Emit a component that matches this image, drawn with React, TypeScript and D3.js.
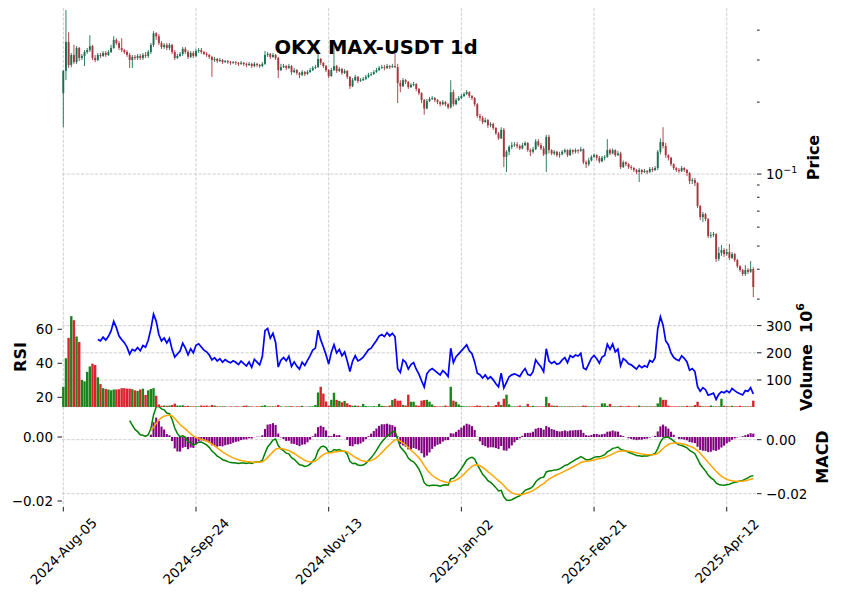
import React, { useEffect, useRef } from 'react';
import * as d3 from 'd3';

// chart text
const title = 'OKX MAX-USDT 1d';
const xTickIdx = [0, 50, 100, 150, 200, 250];
const xTickLabels = ['2024-Aug-05', '2024-Sep-24', '2024-Nov-13', '2025-Jan-02', '2025-Feb-21', '2025-Apr-12'];

// daily candles, one per day from 2024-08-05 (open = previous close)
const firstOpen = 0.218;
const closes = [
  0.270, 0.357, 0.286, 0.315, 0.294, 0.337, 0.306, 0.312, 0.324, 0.330,
  0.343, 0.306, 0.300, 0.315, 0.312, 0.321, 0.315, 0.324, 0.337, 0.364,
  0.353, 0.337, 0.330, 0.324, 0.315, 0.300, 0.309, 0.306, 0.312, 0.306,
  0.315, 0.312, 0.324, 0.347, 0.388, 0.377, 0.353, 0.340, 0.347, 0.337,
  0.347, 0.324, 0.306, 0.312, 0.318, 0.334, 0.324, 0.309, 0.321, 0.312,
  0.327, 0.330, 0.324, 0.318, 0.315, 0.309, 0.300, 0.303, 0.297, 0.300,
  0.294, 0.297, 0.294, 0.292, 0.294, 0.292, 0.289, 0.292, 0.289, 0.286,
  0.289, 0.283, 0.289, 0.286, 0.283, 0.289, 0.315, 0.318, 0.309, 0.315,
  0.306, 0.272, 0.280, 0.283, 0.278, 0.283, 0.267, 0.272, 0.265, 0.260,
  0.267, 0.262, 0.267, 0.272, 0.278, 0.280, 0.303, 0.292, 0.283, 0.272,
  0.257, 0.272, 0.283, 0.270, 0.275, 0.265, 0.270, 0.255, 0.233, 0.247,
  0.255, 0.245, 0.247, 0.250, 0.255, 0.260, 0.262, 0.267, 0.272, 0.278,
  0.280, 0.278, 0.283, 0.280, 0.283, 0.280, 0.240, 0.233, 0.247, 0.243,
  0.231, 0.236, 0.238, 0.227, 0.218, 0.204, 0.188, 0.202, 0.206, 0.208,
  0.204, 0.200, 0.196, 0.200, 0.196, 0.190, 0.220, 0.196, 0.204, 0.208,
  0.212, 0.216, 0.220, 0.212, 0.208, 0.196, 0.175, 0.172, 0.165, 0.168,
  0.160, 0.162, 0.156, 0.148, 0.141, 0.153, 0.118, 0.124, 0.130, 0.132,
  0.133, 0.131, 0.128, 0.132, 0.135, 0.126, 0.124, 0.127, 0.137, 0.132,
  0.128, 0.121, 0.143, 0.126, 0.122, 0.124, 0.120, 0.121, 0.124, 0.126,
  0.120, 0.126, 0.124, 0.126, 0.125, 0.127, 0.112, 0.110, 0.114, 0.118,
  0.120, 0.117, 0.113, 0.117, 0.118, 0.126, 0.122, 0.126, 0.120, 0.122,
  0.107, 0.112, 0.110, 0.107, 0.106, 0.104, 0.102, 0.104, 0.102, 0.103,
  0.102, 0.105, 0.104, 0.106, 0.124, 0.136, 0.131, 0.120, 0.117, 0.110,
  0.106, 0.104, 0.103, 0.106, 0.104, 0.101, 0.0935, 0.0944, 0.0917, 0.0735,
  0.0661, 0.0680, 0.0648, 0.0551, 0.0556, 0.0561, 0.0442, 0.0468, 0.0481, 0.0463,
  0.0472, 0.0446, 0.0463, 0.0437, 0.0412, 0.0397, 0.0382, 0.0397, 0.0390, 0.0401,
  0.0337,
];
const highs = [
  0.272, 0.485, 0.392, 0.321, 0.347, 0.343, 0.340, 0.318, 0.330, 0.337,
  0.381, 0.347, 0.315, 0.321, 0.321, 0.327, 0.327, 0.330, 0.347, 0.377,
  0.370, 0.360, 0.370, 0.334, 0.330, 0.321, 0.315, 0.315, 0.318, 0.318,
  0.321, 0.324, 0.330, 0.353, 0.396, 0.392, 0.385, 0.360, 0.353, 0.353,
  0.353, 0.350, 0.330, 0.318, 0.324, 0.340, 0.340, 0.330, 0.327, 0.327,
  0.334, 0.337, 0.337, 0.327, 0.324, 0.318, 0.312, 0.309, 0.306, 0.306,
  0.303, 0.300, 0.300, 0.297, 0.297, 0.297, 0.294, 0.297, 0.294, 0.292,
  0.294, 0.292, 0.294, 0.292, 0.289, 0.294, 0.327, 0.324, 0.321, 0.321,
  0.318, 0.309, 0.289, 0.289, 0.286, 0.289, 0.286, 0.278, 0.275, 0.267,
  0.272, 0.270, 0.272, 0.278, 0.283, 0.286, 0.330, 0.306, 0.294, 0.286,
  0.275, 0.278, 0.347, 0.286, 0.280, 0.278, 0.275, 0.272, 0.257, 0.252,
  0.260, 0.257, 0.252, 0.255, 0.260, 0.265, 0.267, 0.272, 0.278, 0.283,
  0.286, 0.286, 0.289, 0.286, 0.289, 0.318, 0.289, 0.247, 0.252, 0.250,
  0.245, 0.240, 0.243, 0.240, 0.229, 0.220, 0.206, 0.206, 0.210, 0.212,
  0.210, 0.206, 0.202, 0.204, 0.202, 0.198, 0.247, 0.225, 0.208, 0.212,
  0.216, 0.220, 0.225, 0.222, 0.214, 0.210, 0.198, 0.179, 0.175, 0.172,
  0.170, 0.165, 0.164, 0.157, 0.150, 0.157, 0.156, 0.126, 0.132, 0.136,
  0.136, 0.136, 0.133, 0.135, 0.137, 0.136, 0.128, 0.130, 0.140, 0.140,
  0.135, 0.131, 0.146, 0.146, 0.127, 0.126, 0.125, 0.124, 0.126, 0.128,
  0.127, 0.128, 0.127, 0.128, 0.127, 0.130, 0.128, 0.114, 0.117, 0.120,
  0.122, 0.121, 0.119, 0.119, 0.120, 0.140, 0.128, 0.128, 0.127, 0.125,
  0.124, 0.114, 0.113, 0.111, 0.109, 0.107, 0.105, 0.106, 0.105, 0.105,
  0.104, 0.107, 0.107, 0.108, 0.126, 0.141, 0.157, 0.135, 0.121, 0.118,
  0.111, 0.107, 0.106, 0.108, 0.107, 0.105, 0.102, 0.0963, 0.0963, 0.0926,
  0.0742, 0.0694, 0.0687, 0.0655, 0.0572, 0.0572, 0.0566, 0.0495, 0.0505, 0.0490,
  0.0486, 0.0510, 0.0472, 0.0468, 0.0442, 0.0416, 0.0401, 0.0416, 0.0404, 0.0433,
  0.0408,
];
const lows = [
  0.157, 0.247, 0.278, 0.280, 0.289, 0.289, 0.297, 0.300, 0.283, 0.318,
  0.324, 0.300, 0.294, 0.297, 0.306, 0.309, 0.309, 0.312, 0.321, 0.334,
  0.347, 0.330, 0.324, 0.318, 0.309, 0.278, 0.278, 0.300, 0.300, 0.300,
  0.300, 0.306, 0.306, 0.318, 0.340, 0.364, 0.347, 0.334, 0.334, 0.330,
  0.330, 0.318, 0.300, 0.303, 0.309, 0.312, 0.318, 0.303, 0.306, 0.306,
  0.309, 0.321, 0.318, 0.315, 0.309, 0.303, 0.255, 0.294, 0.292, 0.294,
  0.289, 0.292, 0.289, 0.286, 0.289, 0.286, 0.283, 0.286, 0.283, 0.280,
  0.283, 0.278, 0.280, 0.280, 0.278, 0.280, 0.286, 0.309, 0.303, 0.306,
  0.300, 0.252, 0.270, 0.278, 0.272, 0.275, 0.260, 0.265, 0.260, 0.252,
  0.257, 0.257, 0.260, 0.265, 0.270, 0.275, 0.278, 0.286, 0.278, 0.267,
  0.252, 0.255, 0.270, 0.265, 0.267, 0.260, 0.262, 0.250, 0.227, 0.231,
  0.245, 0.240, 0.243, 0.245, 0.247, 0.252, 0.257, 0.260, 0.265, 0.270,
  0.275, 0.272, 0.275, 0.275, 0.278, 0.278, 0.198, 0.220, 0.231, 0.238,
  0.227, 0.229, 0.233, 0.222, 0.214, 0.198, 0.177, 0.187, 0.200, 0.204,
  0.200, 0.196, 0.192, 0.194, 0.192, 0.187, 0.188, 0.192, 0.194, 0.202,
  0.206, 0.210, 0.214, 0.208, 0.204, 0.192, 0.172, 0.167, 0.162, 0.164,
  0.156, 0.157, 0.153, 0.146, 0.139, 0.140, 0.107, 0.102, 0.120, 0.127,
  0.130, 0.128, 0.126, 0.127, 0.131, 0.124, 0.119, 0.122, 0.126, 0.130,
  0.126, 0.119, 0.102, 0.122, 0.120, 0.120, 0.118, 0.117, 0.120, 0.122,
  0.118, 0.119, 0.121, 0.122, 0.122, 0.124, 0.110, 0.106, 0.108, 0.113,
  0.117, 0.114, 0.111, 0.112, 0.114, 0.117, 0.120, 0.121, 0.118, 0.119,
  0.105, 0.106, 0.108, 0.105, 0.104, 0.102, 0.100, 0.0926, 0.100, 0.101,
  0.100, 0.101, 0.102, 0.103, 0.104, 0.121, 0.128, 0.117, 0.114, 0.108,
  0.104, 0.102, 0.101, 0.102, 0.102, 0.098, 0.0908, 0.0908, 0.0891, 0.0721,
  0.0642, 0.0630, 0.0636, 0.0540, 0.0540, 0.0546, 0.0429, 0.0433, 0.0455, 0.0450,
  0.0455, 0.0437, 0.0442, 0.0429, 0.0404, 0.0390, 0.0375, 0.0375, 0.0382, 0.0386,
  0.0306,
];
// volume in millions
const volumes = [
  75, 180, 255, 335, 320, 260, 240, 100, 95, 130,
  150, 160, 155, 110, 85, 70, 67, 65, 62, 65,
  65, 66, 70, 70, 68, 68, 66, 62, 60, 65,
  68, 45, 62, 67, 70, 42, 10, 5, 6, 5,
  6, 8, 13, 6, 6, 7, 4, 5, 3, 3,
  3, 3, 6, 5, 6, 3, 8, 6, 3, 3,
  3, 3, 2, 3, 2, 3, 3, 2, 5, 6,
  3, 3, 2, 3, 3, 5, 7, 3, 3, 3,
  3, 8, 3, 2, 3, 3, 4, 2, 3, 3,
  5, 2, 2, 3, 3, 8, 54, 75, 50, 21,
  6, 27, 53, 27, 23, 18, 23, 14, 8, 5,
  6, 5, 3, 12, 4, 3, 3, 4, 3, 12,
  5, 4, 3, 6, 26, 31, 24, 24, 8, 6,
  46, 20, 20, 7, 5, 24, 26, 27, 20, 10,
  4, 3, 3, 3, 6, 3, 75, 24, 20, 10,
  5, 3, 3, 3, 3, 4, 6, 5, 3, 3,
  5, 3, 3, 8, 20, 8, 31, 46, 10, 3,
  3, 3, 6, 3, 3, 12, 3, 5, 3, 3,
  3, 3, 38, 15, 6, 5, 5, 3, 3, 3,
  3, 3, 3, 3, 3, 3, 6, 5, 3, 3,
  3, 3, 3, 14, 14, 5, 12, 3, 3, 3,
  5, 3, 3, 5, 3, 3, 3, 6, 3, 3,
  3, 3, 3, 3, 14, 36, 27, 27, 6, 3,
  3, 3, 3, 3, 3, 5, 3, 3, 8, 20,
  5, 3, 3, 3, 6, 3, 3, 3, 31, 5,
  3, 3, 5, 3, 3, 5, 3, 3, 3, 3,
  24,
];

const rsiTicks = [20, 40, 60];
const volTicks = [100, 200, 300];
const macdTicks = [0, -0.02];
const priceMajorTicks = [0.1];
const priceMinorTicks = [0.03, 0.04, 0.05, 0.06, 0.07, 0.08, 0.09, 0.2, 0.3, 0.4];

const FONT = 'DejaVu Sans, sans-serif';
const UP = '#006340', DOWN = '#a02128';
const VUP = '#007a00', VDOWN = '#d50d18';
const GRID = '#c4c4c4';

const ema = (arr: (number | null)[], span: number) => {
  const a = 2 / (span + 1);
  const out: (number | null)[] = [];
  let prev: number | null = null;
  arr.forEach(v => {
    if (v == null) { out.push(null); return; }
    prev = prev == null ? v : a * v + (1 - a) * prev;
    out.push(prev);
  });
  return out;
};

// pandas-style ewm(com=13) with adjust=True
const ewmAdjusted = (arr: number[], alpha: number) => {
  let num = 0, den = 0;
  return arr.map(v => {
    num = v + (1 - alpha) * num;
    den = 1 + (1 - alpha) * den;
    return num / den;
  });
};

const App: React.FC = () => {
  const ref = useRef<SVGSVGElement>(null);

  useEffect(() => {
    document.body.style.margin = '0';
    if (!ref.current) return;
    const svg = d3.select(ref.current);
    svg.selectAll('*').remove();

    const n = closes.length;
    const opens = closes.map((_, i) => (i === 0 ? firstOpen : closes[i - 1]));

    // RSI(14), Wilder-type smoothing
    const gains = closes.map((c, i) => (i === 0 ? 0 : Math.max(0, c - closes[i - 1])));
    const losses = closes.map((c, i) => (i === 0 ? 0 : Math.max(0, closes[i - 1] - c)));
    const ag = ewmAdjusted(gains, 1 / 14), al = ewmAdjusted(losses, 1 / 14);
    const rsi = closes.map((_, i) => (i < 13 ? null : al[i] === 0 ? 100 : 100 - 100 / (1 + ag[i] / al[i])));

    // MACD(12,26,9)
    const e12 = ema(closes, 12), e26 = ema(closes, 26);
    const macdAll = closes.map((_, i) => (e12[i] as number) - (e26[i] as number));
    const macd = macdAll.map((v, i) => (i < 25 ? null : v));
    const sigAll = ema(macd, 9);
    const signal = sigAll.map((v, i) => (i < 33 ? null : v));
    const hist = macd.map((v, i) => (signal[i] == null || v == null ? null : v - (signal[i] as number)));

    const left = 62, right = 757;
    const P1: [number, number] = [8, 307], P2: [number, number] = [307, 407], P3: [number, number] = [407, 507];

    const x = d3.scaleLinear().domain([-0.49, 261.4]).range([left, right]);
    const yPrice = d3.scaleLog().domain([0.0278, 0.495]).range([P1[1], P1[0]]);
    const yRsi = d3.scaleLinear().domain([14.3, 73.1]).range([P2[1], P2[0]]);
    const vMin = d3.min(volumes) as number, vMax = d3.max(volumes) as number;
    const yVol = d3.scaleLinear().domain([0.3 * vMin, 1.1 * vMax]).range([P2[1], P2[0]]);
    const yMacd = d3.scaleLinear().domain([-0.02493, 0.01211]).range([P3[1], P3[0]]);
    const yHist = d3.scaleLinear().domain([-0.021875, 0.009375]).range([P3[1], P3[0]]);

    svg.append('rect').attr('width', 841).attr('height', 598).attr('fill', '#fff');

    const defs = svg.append('defs');
    [P1, P2, P3].forEach((p, k) => {
      defs.append('clipPath').attr('id', `clip${k}`)
        .append('rect').attr('x', left).attr('y', p[0]).attr('width', right - left).attr('height', p[1] - p[0]);
    });

    const grid = svg.append('g').attr('stroke', GRID).attr('stroke-width', 0.8).attr('stroke-dasharray', '3.3,1.4');
    [P1, P2, P3].forEach(p => {
      xTickIdx.forEach(t => grid.append('line').attr('x1', x(t)).attr('x2', x(t)).attr('y1', p[0]).attr('y2', p[1]));
    });
    priceMajorTicks.forEach(t => grid.append('line').attr('x1', left).attr('x2', right).attr('y1', yPrice(t)).attr('y2', yPrice(t)));
    volTicks.forEach(t => grid.append('line').attr('x1', left).attr('x2', right).attr('y1', yVol(t)).attr('y2', yVol(t)));
    macdTicks.forEach(t => grid.append('line').attr('x1', left).attr('x2', right).attr('y1', yMacd(t)).attr('y2', yMacd(t)));

    // candles
    const gc = svg.append('g').attr('clip-path', 'url(#clip0)').attr('opacity', 0.9);
    for (let i = 0; i < n; i++) {
      const o = opens[i], c = closes[i];
      const col = c >= o ? UP : DOWN;
      const hi = Math.max(highs[i], o, c), lo = Math.min(lows[i], o, c);
      gc.append('line').attr('x1', x(i)).attr('x2', x(i))
        .attr('y1', yPrice(hi)).attr('y2', yPrice(lo)).attr('stroke', col).attr('stroke-width', 0.9);
      const yt = yPrice(Math.max(o, c)), yb = yPrice(Math.min(o, c));
      gc.append('rect').attr('x', x(i) - 0.95).attr('width', 1.9)
        .attr('y', yt).attr('height', Math.max(0.8, yb - yt)).attr('fill', col);
    }

    // volume
    const gv = svg.append('g').attr('clip-path', 'url(#clip1)').attr('opacity', 0.9);
    volumes.forEach((v, i) => {
      const col = closes[i] >= opens[i] ? VUP : VDOWN;
      gv.append('rect').attr('x', x(i) - 1.2).attr('width', 2.4)
        .attr('y', yVol(v)).attr('height', P2[1] - yVol(v)).attr('fill', col);
    });

    // RSI
    const rsiLine = d3.line<number | null>()
      .defined(d => d != null)
      .x((_, i) => x(i))
      .y(d => yRsi(d as number));
    svg.append('path').datum(rsi).attr('clip-path', 'url(#clip1)')
      .attr('fill', 'none').attr('stroke', '#0000ff').attr('stroke-width', 1.7).attr('d', rsiLine);

    // MACD histogram + lines
    const gh = svg.append('g').attr('clip-path', 'url(#clip2)');
    hist.forEach((h, i) => {
      if (h == null) return;
      const y0 = yHist(0), y1 = yHist(h);
      gh.append('rect').attr('x', x(i) - 1.05).attr('width', 2.1)
        .attr('y', Math.min(y0, y1)).attr('height', Math.abs(y1 - y0)).attr('fill', '#800080');
    });
    const mLine = d3.line<number | null>()
      .defined(d => d != null)
      .x((_, i) => x(i))
      .y(d => yMacd(d as number));
    gh.append('path').datum(macd).attr('fill', 'none').attr('stroke', '#008000').attr('stroke-width', 1.5).attr('d', mLine);
    gh.append('path').datum(signal).attr('fill', 'none').attr('stroke', '#ffa500').attr('stroke-width', 1.5).attr('d', mLine);

    // axes ticks
    const ax = svg.append('g').attr('font-family', FONT).attr('font-size', 13.5).attr('fill', '#000');
    const tickR = (y: number, len: number) =>
      ax.append('line').attr('x1', right).attr('x2', right + len).attr('y1', y).attr('y2', y).attr('stroke', '#000').attr('stroke-width', 0.9);
    const tickL = (y: number) =>
      ax.append('line').attr('x1', left - 4.5).attr('x2', left).attr('y1', y).attr('y2', y).attr('stroke', '#000').attr('stroke-width', 0.9);
    const fmt = (v: number) => (v < 0 ? '\u2212' : '') + Math.abs(v).toFixed(2);

    priceMinorTicks.forEach(t => tickR(yPrice(t), 2.6));
    priceMajorTicks.forEach(t => {
      tickR(yPrice(t), 4.5);
      const tx = ax.append('text').attr('x', right + 9).attr('y', yPrice(t) + 5);
      tx.append('tspan').text('10');
      tx.append('tspan').attr('font-size', 9.5).attr('dy', -6).text('\u22121');
    });
    volTicks.forEach(t => {
      tickR(yVol(t), 4.5);
      ax.append('text').attr('x', right + 9).attr('y', yVol(t)).attr('dominant-baseline', 'central').text(String(t));
    });
    macdTicks.forEach(t => {
      tickR(yMacd(t), 4.5);
      ax.append('text').attr('x', right + 9).attr('y', yMacd(t)).attr('dominant-baseline', 'central').text(fmt(t));
    });
    rsiTicks.forEach(t => {
      tickL(yRsi(t));
      ax.append('text').attr('x', left - 9).attr('y', yRsi(t)).attr('text-anchor', 'end').attr('dominant-baseline', 'central').text(String(t));
    });
    macdTicks.forEach(t => {
      tickL(yHist(t));
      ax.append('text').attr('x', left - 9).attr('y', yHist(t)).attr('text-anchor', 'end').attr('dominant-baseline', 'central').text(fmt(t));
    });
    xTickIdx.forEach((t, k) => {
      ax.append('line').attr('x1', x(t)).attr('x2', x(t)).attr('y1', P3[1]).attr('y2', P3[1] + 4.5).attr('stroke', '#000').attr('stroke-width', 0.9);
      const cy = 551;
      ax.append('text').attr('x', x(t)).attr('y', cy).attr('text-anchor', 'middle').attr('dominant-baseline', 'central')
        .attr('transform', `rotate(-45, ${x(t)}, ${cy})`).text(xTickLabels[k]);
    });

    // labels
    const lab = svg.append('g').attr('font-family', FONT).attr('font-weight', 'bold').attr('fill', '#000');
    lab.append('text').attr('x', 376).attr('y', 54).attr('text-anchor', 'middle').attr('font-size', 19.5).text(title);
    const vlabel = (txt: string, cx: number, cy: number) =>
      lab.append('text').attr('x', cx).attr('y', cy).attr('text-anchor', 'middle').attr('dominant-baseline', 'central')
        .attr('font-size', 16).attr('transform', `rotate(-90, ${cx}, ${cy})`).text(txt);
    vlabel('Price', 813, (P1[0] + P1[1]) / 2);
    vlabel('RSI', 20, (P2[0] + P2[1]) / 2);
    vlabel('MACD', 822, (P3[0] + P3[1]) / 2);
    const vcx = 806, vcy = (P2[0] + P2[1]) / 2;
    const vt = lab.append('text').attr('x', vcx).attr('y', vcy).attr('text-anchor', 'middle').attr('dominant-baseline', 'central')
      .attr('font-size', 16).attr('transform', `rotate(-90, ${vcx}, ${vcy})`);
    vt.append('tspan').text('Volume\u00a0\u00a010');
    vt.append('tspan').attr('font-size', 11).attr('dy', -6).text('6');
  }, []);

  return <svg ref={ref} width={841} height={598} style={{ display: 'block' }} />;
};

export default App;
